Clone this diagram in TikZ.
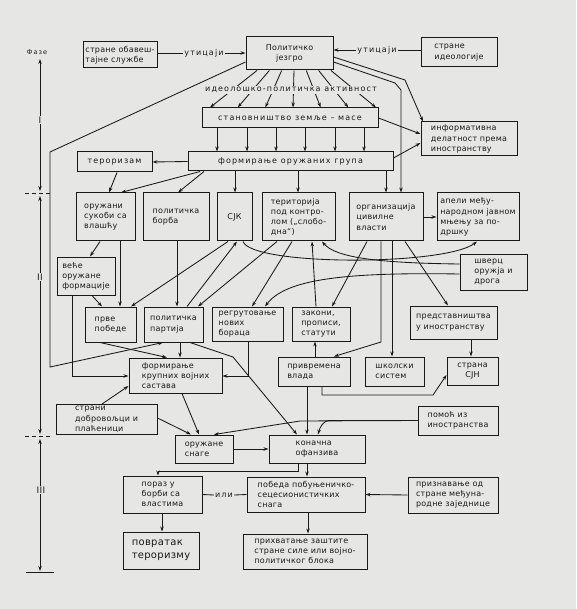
\documentclass[tikz,border=0pt]{standalone}
\usepackage{fontspec}
\setmainfont{DejaVu Sans}[LetterSpace=3]
\newfontfamily\wide{DejaVu Sans}[LetterSpace=14]
\usetikzlibrary{arrows.meta,calc}
\definecolor{bg}{RGB}{230,230,228}
\definecolor{ink}{RGB}{25,25,25}
\newcommand\lbl{\fontsize{8}{10.2}\selectfont}
\newcommand\mybox[5]{\node[box,minimum width=#3pt,minimum height=#4pt] (#1) at (#2) {#5};}
\begin{document}
\begin{tikzpicture}[x=1pt,y=-1pt,
  box/.style={draw=ink,line width=1pt,inner sep=2pt,align=left,font=\lbl,text=ink},
  ln/.style={draw=ink,line width=0.85pt},
  arr/.style={ln,-{Stealth[length=5pt,width=3.4pt]}},
  darr/.style={ln,{Stealth[length=5pt,width=3.4pt]}-{Stealth[length=5pt,width=3.4pt]}},
  lab/.style={font=\lbl\wide,text=ink,inner sep=1pt,fill=bg}]
\fill[bg] (0,0) rectangle (576,609);
\useasboundingbox (0,0) rectangle (576,609);
% boxes
\mybox{sob}{120,55}{74}{26}{стране обавеш-\\тајне службе}
\node[box,align=center,minimum width=87pt,minimum height=33pt] (pj) at (289.5,53.5) {Политичко\\језгро};
\mybox{sid}{459,52.5}{76}{29}{стране\\идеологије}
\node[box,font=\lbl\wide,minimum width=176pt,minimum height=20pt] (sta) at (290,118) {становништво земље – масе};
\mybox{inf}{469,139}{96}{34}{информативна\\делатност према\\иностранству}
\node[box,font=\lbl\wide,minimum width=75pt,minimum height=20pt] (ter) at (114.5,162) {тероризам};
\node[box,font=\lbl\wide,minimum width=205pt,minimum height=19pt] (fog) at (290.5,161.5) {формирање оружаних група};
\mybox{os}{105.5,217}{59}{48}{оружани\\сукоби са\\влашћу}
\mybox{pb}{176,217}{66}{48}{политичка\\борба}
\mybox{sjk}{234.5,217}{35}{48}{СЈК}
\mybox{tpk}{298.5,217}{73}{48}{територија\\под контро-\\лом („слобо-\\дна“)}
\mybox{ocv}{386,217}{74}{48}{организација\\цивилне\\власти}
\mybox{ap}{478,217}{82}{48}{апели међу-\\народном јавном\\мњењу за по-\\дршку}
\mybox{vof}{86,276}{58}{38}{веће\\оружане\\формације}
\mybox{shv}{493.5,272}{67}{36}{шверц\\оружја и\\дрога}
\mybox{prp}{110.5,324.5}{51}{35}{прве\\победе}
\mybox{pp}{173.5,324.5}{59}{35}{политичка\\партија}
\mybox{reg}{247.5,324}{71}{34}{регрутовање\\нових\\бораца}
\mybox{zak}{321,324}{58}{34}{закони,\\прописи,\\статути}
\mybox{pred}{453.5,322.5}{87}{33}{представништва\\у иностранству}
\mybox{fkv}{175.5,375.5}{93}{35}{формирање\\крупних војних\\састава}
\mybox{pv}{314,371.5}{72}{29}{привремена\\влада}
\mybox{shs}{394.5,371.5}{59}{29}{школски\\систем}
\node[box,align=center,minimum width=51pt,minimum height=28pt] (ssj) at (472.5,371) {страна\\СЈН};
\mybox{sdp}{106.5,419.5}{101}{27}{страни\\добровољци и\\плаћеници}
\mybox{pom}{458,420.5}{80}{29}{помоћ из\\иностранства}
\mybox{osn}{204,449}{58}{28}{оружане\\снаге}
\mybox{ko}{317,449}{96}{28}{коначна\\офанзива}
\mybox{por}{162.5,494.5}{79}{37}{пораз у\\борби са\\властима}
\mybox{pob}{306,494.5}{118}{35}{победа побуњеничко-\\сецесионистичких\\снага}
\mybox{pri}{453,495}{90}{36}{признавање од\\стране међуна-\\родне заједнице}
\node[box,font=\fontsize{10}{13}\selectfont,minimum width=76pt,minimum height=37pt] (pov) at (161,550.5) {повратак\\тероризму};
\mybox{prih}{305,551.5}{124}{35}{прихватање заштите\\стране силе или војно-\\политичког блока}
% top influences
\node[lab] (ut1) at (204,53) {утицаји};
\node[lab] (ut2) at (377,50) {утицаји};
\draw[ln] (sob.east |- 0,53) -- (ut1.west);
\draw[arr] (ut1.east) -- (pj.west |- 0,53);
\draw[ln] (sid.west |- 0,50) -- (ut2.east);
\draw[arr] (ut2.west) -- (pj.east |- 0,50);
% fan
\foreach \i in {0,...,6}{
  \pgfmathsetmacro\xa{257+12.33*\i}
  \pgfmathsetmacro\xb{210+27.67*\i}
  \draw[arr] (pj.south -| \xa,0) -- (sta.north -| \xb,0);
}
\node[lab] (ipa) at (291,90) {идеолошко-политичка активност};
\foreach \x in {217,247,276,305,335,364}{
  \draw[arr] (sta.south -| \x,0) -- (fog.north -| \x,0);
}
% from political core
\draw[arr] (pj.east |- 0,57) -- (405,80) -- (inf.north -| 423,0);
\draw[arr] (pj.east |- 0,62) -- (395,83) -- (401,90) -- (ocv.north -| 401,0);
\draw[arr] (sta.east |- 0,118) -- (inf.west |- 0,134);
\draw[arr] (fog.east |- 0,158) -- (inf.west |- 0,143);
\draw[arr] (fog.west) -- (ter.east);
\draw[arr] (pj.west |- 0,62) -- (50,152) -- (50,367) -- (pp.south -| 163,0);
% from armed groups
\draw[arr] (ter.south -| 117,0) -- (os.north -| 109,0);
\draw[arr] (fog.south -| 200,0) -- (os.north -| 121,0);
\draw[arr] (fog.south -| 204,0) -- (pb.north -| 178,0);
\draw[arr] (fog.south -| 235,0) -- (sjk.north -| 235,0);
\draw[arr] (fog.south -| 298,0) -- (tpk.north -| 298,0);
\draw[arr] (fog.south -| 386,0) -- (ocv.north -| 386,0);
\draw[arr] (ocv.east) -- (ap.west);
% middle tangle
\draw[arr] (os.south -| 100,0) -- (vof.north -| 90,0);
\draw[arr] (os.south -| 120,0) -- (prp.north -| 120,0);
\draw[arr] (vof.south -| 92,0) -- (prp.north -| 102,0);
\draw[arr] (pb.south -| 177,0) -- (pp.north -| 177,0);
\draw[arr] (sjk.south -| 228,0) -- (prp.north -| 131,0);
\draw[arr] (pp.north -| 187,0) -- (sjk.south -| 237,0);
\draw[arr] (tpk.south -| 277,0) -- (pp.north -| 198,0);
\draw[arr] (tpk.south -| 292,0) -- (reg.north -| 252,0);
\draw[arr] (zak.north -| 316,0) -- (tpk.south -| 312,0);
\draw[arr] (shv.west |- 0,264) .. controls (380,263) and (336,258) .. (tpk.south -| 322,0);
\draw[arr] (sjk.south -| 243,0) .. controls (252,266) and (445,266) .. (ap.south -| 477,0);
\draw[arr] (shv.west |- 0,274) .. controls (340,272) and (285,280) .. (reg.north -| 265,0);
\draw[arr] (ocv.south -| 367,0) -- (zak.north -| 332,0);
\draw[arr] (ocv.south -| 381,0) -- (381,342) -- (pv.north -| 334,0);
\draw[arr] (ocv.south -| 392,0) -- (shs.north -| 392,0);
\draw[arr] (ocv.south -| 405,0) -- (pred.north -| 448,0);
% lower part
\draw[arr] (prp.south -| 100,0) -- (fkv.north -| 167,0);
\draw[arr] (pp.south -| 180,0) -- (fkv.north -| 180,0);
\draw[arr] (vof.south -| 72,0) -- (72,376) -- (fkv.west |- 0,376);
\draw[arr] (reg.south -| 248,0) -- (248,376) -- (fkv.east |- 0,376);
\draw[arr] (pp.south -| 190,0) -- (233,357) -- (ko.north -| 297,0);
\draw[arr] (pv.north -| 315,0) -- (zak.south -| 315,0);
\draw[arr] (pv.south -| 322,0) -- (322,395) -- (433,395) -- (ssj.west |- 0,375);
\draw[arr] (pred.south -| 471,0) -- (ssj.north -| 471,0);
\draw[arr] (fkv.south -| 182,0) -- (osn.north -| 199,0);
\draw[arr] (sdp.north -| 102,0) -- (fkv.west |- 0,386);
\draw[arr] (sdp.east |- 0,418) -- (osn.north -| 191,0);
\draw[arr] (pv.south -| 307,0) -- (ko.north -| 307,0);
\draw[arr] (pom.west) -- (330,420.5) to[out=180,in=75] (ko.north -| 318,0);
\draw[arr] (pom.west) -- (300,421) -- (osn.north -| 214,0);
\draw[arr] (osn.east) -- (ko.west);
\draw[arr] (ko.south -| 298,0) -- (298,471) -- (158,471) -- (por.north -| 158,0);
\draw[arr] (ko.south -| 307,0) -- (pob.north -| 307,0);
\node[lab] (ili) at (224,495) {или};
\draw[ln] (por.east) -- (ili.west);
\draw[ln] (ili.east) -- (pob.west);
\draw[arr] (por.south -| 162,0) -- (pov.north -| 162,0);
\draw[arr] (pob.south -| 308,0) -- (prih.north -| 308,0);
\draw[arr] (pri.west) -- (pob.east);
% phase axis
\node[font=\fontsize{6.5}{7}\selectfont,text=ink] (faze) at (37,52) {Ф\,а\,з\,е};
\coordinate (t1) at (40,193);
\coordinate (t2) at (40,436);
\coordinate (t3) at (40,572);
\draw[darr] (40,59) -- ($(t1)+(0,-2)$);
\draw[darr] ($(t1)+(0,3)$) -- ($(t2)+(0,-2)$);
\draw[darr] ($(t2)+(0,3)$) -- ($(t3)+(0,-1)$);
\draw[ln,dash pattern=on 4pt off 3pt] ($(t1)+(-15,0)$) -- ($(t1)+(12,0)$);
\draw[ln,dash pattern=on 4pt off 3pt] ($(t2)+(-15,0)$) -- ($(t2)+(12,0)$);
\draw[ln] ($(t3)+(-14,0)$) -- ($(t3)+(14,0)$);
\node[fill=bg,inner sep=1pt,text=ink,font=\rmfamily\small] (ph1) at (40,120) {I};
\node[fill=bg,inner sep=1pt,text=ink,font=\rmfamily\small] (ph2) at (40,277) {II};
\node[fill=bg,inner sep=1pt,text=ink,font=\rmfamily\small] (ph3) at (41,490) {III};
\end{tikzpicture}
\end{document}
